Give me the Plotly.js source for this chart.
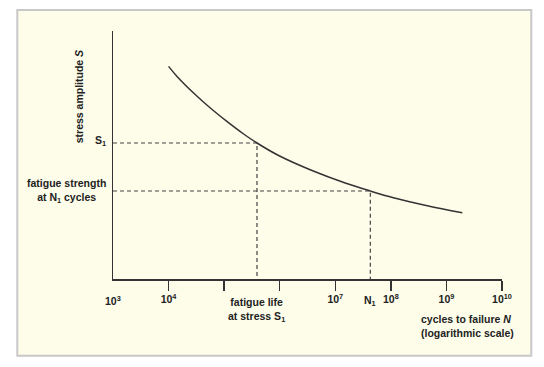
<!DOCTYPE html>
<html>
<head>
<meta charset="utf-8">
<script src="https://cdn.plot.ly/plotly-3.0.1.min.js"></script>
<style>html,body{margin:0;padding:0;background:#fff;}#chart{width:544px;height:367px;}</style>
</head>
<body>
<div id="chart"></div>
<script>
// S-N curve readings (cycles to failure, stress amplitude in arbitrary units)
const cycles = [1.0e4, 1.42e4, 2.82e4, 5.64e4, 1.12e5, 2.24e5, 3.9e5, 9.55e5, 3.81e6, 1.51e7, 4.27e7, 1.11e8, 4.53e8, 1.93e9];
const stress = [212.6, 202.6, 186, 171, 157.6, 145, 136, 123.5, 108.5, 96, 88, 81.3, 73.3, 66.3];

// marked points
const s1 = 136;            // stress S1
const s1Life = 3.9e5;      // fatigue life at stress S1
const n1 = 4.27e7;         // N1 cycles
const n1Strength = 88;     // fatigue strength at N1 cycles

// axis ticks
const tickVals = [1e4, 1e5, 1e6, 1e7, 1e8, 1e9, 1e10];
const tickText = ['10<sup>4</sup>', '', '', '10<sup>7</sup>', '10<sup>8</sup>', '10<sup>9</sup>', '10<sup>10</sup>'];
const xMin = 1e3, xMax = 1e10;
const yMax = 248;

const font = {family: '"Liberation Sans", Arial, sans-serif', size: 10.5, color: '#222', weight: 'bold'};
const lineCol = '#333';
const dashCol = '#444';

const traces = [
  {x: [xMin, s1Life, s1Life], y: [s1, s1, 0], mode: 'lines', line: {color: dashCol, width: 1.2, dash: '4px,3px'}, hoverinfo: 'skip'},
  {x: [xMin, n1, n1], y: [n1Strength, n1Strength, 0], mode: 'lines', line: {color: dashCol, width: 1.2, dash: '4px,3px'}, hoverinfo: 'skip'},
  {x: cycles, y: stress, mode: 'lines', line: {color: lineCol, width: 1.5, shape: 'spline', smoothing: 1}, hoverinfo: 'skip'}
];

const layout = {
  width: 544, height: 367,
  margin: {l: 113, r: 42, t: 31, b: 88},
  paper_bgcolor: '#ffffff',
  plot_bgcolor: 'rgba(0,0,0,0)',
  showlegend: false,
  font: font,
  xaxis: {
    type: 'log', range: [Math.log10(xMin), Math.log10(xMax)],
    showgrid: false, zeroline: false, showline: true, linecolor: lineCol, linewidth: 1.5,
    ticks: 'outside', ticklen: 10, tickwidth: 1.5, tickcolor: lineCol,
    tickmode: 'array', tickvals: tickVals, ticktext: tickText, tickfont: font
  },
  yaxis: {
    range: [0, yMax], showgrid: false, zeroline: false, showline: true,
    linecolor: lineCol, linewidth: 1.5, showticklabels: false, ticks: ''
  },
  shapes: [
    {type: 'rect', xref: 'paper', yref: 'paper', x0: -0.246, x1: 1.0753, y0: -0.309, y1: 1.0846,
     fillcolor: '#fdfdea', line: {color: '#c8c8c8', width: 2}, layer: 'below'}
  ],
  annotations: [
    {text: '10<sup>3</sup>', x: Math.log10(xMin), xref: 'x', xanchor: 'center', y: 0, yref: 'paper', yanchor: 'top', yshift: -13, showarrow: false, font: font},
    {text: 'fatigue life<br>at stress S<sub>1</sub>', x: Math.log10(s1Life), xref: 'x', xanchor: 'center', y: 0, yref: 'paper', yanchor: 'top', yshift: -15, showarrow: false, font: font, align: 'center'},
    {text: 'N<sub>1</sub>', x: Math.log10(n1), xref: 'x', xanchor: 'center', y: 0, yref: 'paper', yanchor: 'top', yshift: -13, showarrow: false, font: font},
    {text: 'cycles to failure <i>N</i><br>(logarithmic scale)', x: 1.036, xref: 'paper', xanchor: 'right', y: -0.188, yref: 'paper', yanchor: 'middle', showarrow: false, font: font, align: 'left'},
    {text: 'stress amplitude <i>S</i>', textangle: -90, x: -0.0866, xref: 'paper', xanchor: 'center', y: 0.734, yref: 'paper', yanchor: 'middle', showarrow: false, font: font},
    {text: 'S<sub>1</sub>', x: -0.032, xref: 'paper', xanchor: 'center', y: s1, yref: 'y', yanchor: 'middle', yshift: 2, showarrow: false, font: font},
    {text: 'fatigue strength<br>at N<sub>1</sub> cycles', x: -0.1188, xref: 'paper', xanchor: 'center', y: n1Strength, yref: 'y', yanchor: 'middle', showarrow: false, font: font, align: 'center'}
  ]
};

Plotly.newPlot('chart', traces, layout, {displayModeBar: false, staticPlot: true});
</script>
</body>
</html>
